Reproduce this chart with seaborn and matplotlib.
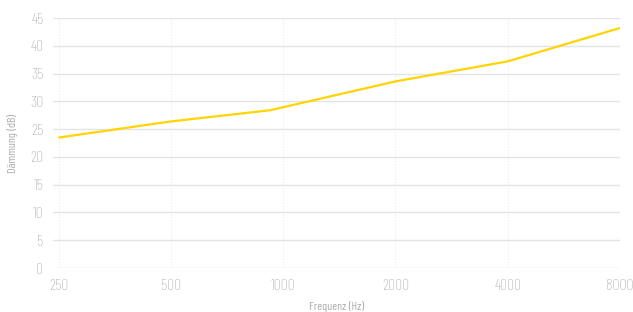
import matplotlib
matplotlib.use("Agg")
import matplotlib.pyplot as plt
import matplotlib.ticker as mticker
import pandas as pd
import seaborn as sns

# data
frequencies = [250, 500, 920, 2000, 4000, 8000]
attenuation = [23.5, 26.4, 28.4, 33.6, 37.2, 43.2]
tick_freqs = [250, 500, 1000, 2000, 4000, 8000]
y_ticks = list(range(0, 50, 5))

df = pd.DataFrame({"freq": frequencies, "db": attenuation})

sns.set_theme(style="white")
plt.rcParams["font.family"] = ["Barlow Condensed", "Roboto", "DejaVu Sans"]

fig = plt.figure(figsize=(6.33, 3.12), dpi=100)
ax = fig.add_axes([0.084, 0.141, 0.895, 0.801])

sns.lineplot(data=df, x="freq", y="db", color="#FFD400", linewidth=1.6, ax=ax)

ax.set_xscale("log", base=2)
ax.set_xlim(241, 8000)
ax.set_ylim(0, 45)
ax.set_xticks(tick_freqs)
ax.xaxis.set_major_formatter(mticker.FixedFormatter([str(t) for t in tick_freqs]))
ax.xaxis.set_minor_locator(mticker.NullLocator())
ax.set_yticks(y_ticks)

ax.grid(axis="y", color="#e4e4e4", linewidth=1.0, linestyle="-")
ax.grid(axis="x", color="#ececec", linewidth=0.8, linestyle=":")
ax.set_axisbelow(True)
for s in ax.spines.values():
    s.set_visible(False)

ax.tick_params(axis="both", length=0, labelsize=11.5, labelcolor="#ababab")
ax.tick_params(axis="x", pad=8)
ax.tick_params(axis="y", pad=7)
for lbl in ax.get_xticklabels() + ax.get_yticklabels():
    lbl.set_fontweight("light")

ax.set_xlabel("Frequenz (Hz)", fontsize=8.5, color="#ababab", labelpad=6)
ax.set_ylabel("Dämmung (dB)", fontsize=8.5, color="#ababab", labelpad=9)

fig.savefig("out.png", dpi=100)
